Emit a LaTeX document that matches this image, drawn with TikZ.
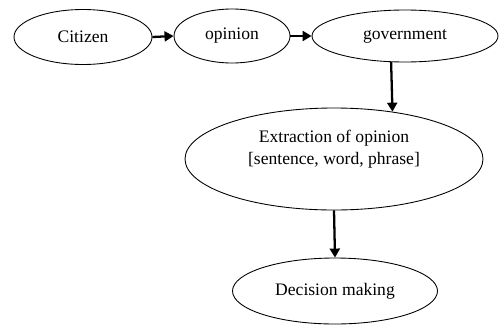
\documentclass[tikz,border=0pt]{standalone}
\usepackage{fontspec}
\setmainfont{Liberation Serif}
\usetikzlibrary{shapes.geometric,arrows.meta}
\begin{document}
\begin{tikzpicture}[
		bubble/.style={draw, ellipse, line width=0.5pt, inner sep=0pt, align=center, font=\fontsize{10}{12.5}\selectfont},
		flow/.style={line width=1.3pt, -{Triangle[length=0.18cm, width=0.2cm]}}
	]
		
		\useasboundingbox (0,0) rectangle (10,-6.52);
		
		\node[bubble, minimum width=2.76cm, minimum height=1.1cm] (citizen) at (1.66,-0.74) {Citizen};
		\node[bubble, minimum width=2.32cm, minimum height=1.08cm] (opinion) at (4.64,-0.72) {opinion};
		\node[bubble, minimum width=3.72cm, minimum height=1.04cm] (government) at (8.10,-0.72) {government};
		
		\node[bubble, minimum width=5.96cm, minimum height=2.04cm] (extraction) at (6.68,-3.18) {\raisebox{0pt}[\height][\dimexpr\depth+0.4cm\relax]{\begin{tabular}{@{}c@{}}Extraction of opinion\\ {[}sentence, word, phrase{]}\end{tabular}}};
		\node[bubble, minimum width=4.10cm, minimum height=1.32cm] (decision) at (6.70,-5.82) {Decision making};
		
		\draw[flow] (citizen.east) -- (opinion.west);
		\draw[flow] (opinion.east) -- (government.west);
		\draw[flow] (government.-118.6) -- (extraction.39.5);
		\draw[flow] (extraction.south) -- (decision.north);
		
	\end{tikzpicture}
\end{document}
